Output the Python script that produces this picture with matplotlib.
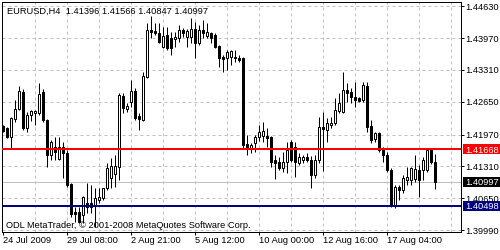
import matplotlib
matplotlib.use("Agg")
import matplotlib.pyplot as plt
import matplotlib.transforms as mtransforms
from matplotlib.patches import Rectangle
import numpy as np

plt.rcParams['font.family'] = ['Liberation Sans', 'DejaVu Sans']

# ---- data (EURUSD H4 candles) ----
opens = [1.42146, 1.42104, 1.41918, 1.42291, 1.42498, 1.42850, 1.42104, 1.42374, 1.42415, 1.42415,
         1.42850, 1.42270, 1.41546, 1.41711, 1.41463, 1.41711, 1.41587, 1.40945, 1.40366, 1.40366,
         1.40304, 1.40552, 1.40552, 1.40511, 1.40614, 1.40655, 1.40862, 1.41069, 1.41152, 1.41297,
         1.42767, 1.42498, 1.42643, 1.42870, 1.42353, 1.42270, 1.43160, 1.44133, 1.44112, 1.44071,
         1.43781, 1.44030, 1.43967, 1.43947, 1.43967, 1.44133, 1.43988, 1.43988, 1.44154, 1.43864,
         1.44133, 1.44009, 1.44071, 1.44030, 1.43802, 1.43574, 1.43553, 1.43574, 1.43574, 1.43553,
         1.43553, 1.41773, 1.41670, 1.41794, 1.41918, 1.41939, 1.41939, 1.41918, 1.41442, 1.41401,
         1.41276, 1.41401, 1.41815, 1.41711, 1.41380, 1.41442, 1.41504, 1.41442, 1.41132, 1.41442,
         1.42125, 1.42063, 1.42167, 1.42208, 1.42456, 1.42436, 1.42891, 1.42850, 1.42746, 1.42725,
         1.42684, 1.42974, 1.42146, 1.41877, 1.42001, 1.41670, 1.41546, 1.41235, 1.40511, 1.40883,
         1.40821, 1.41028, 1.41028, 1.41049, 1.41235, 1.41235, 1.41235, 1.41649, 1.41396]
highs = [1.42167, 1.42125, 1.42332, 1.42684, 1.42974, 1.42912, 1.42436, 1.42477, 1.42477, 1.43036,
         1.42912, 1.42291, 1.41856, 1.41918, 1.41918, 1.41815, 1.41649, 1.40966, 1.40469, 1.40469,
         1.40697, 1.40966, 1.40925, 1.40862, 1.40862, 1.40862, 1.41380, 1.41483, 1.41546, 1.42829,
         1.42829, 1.42622, 1.43098, 1.42932, 1.42415, 1.43264, 1.44278, 1.44423, 1.44278, 1.44278,
         1.44195, 1.44195, 1.44092, 1.44092, 1.44237, 1.44174, 1.44154, 1.44381, 1.44299, 1.44237,
         1.44340, 1.44278, 1.44092, 1.44071, 1.43823, 1.43616, 1.43719, 1.43719, 1.43719, 1.43616,
         1.43574, 1.41960, 1.41794, 1.41960, 1.42167, 1.42229, 1.42104, 1.41939, 1.41546, 1.41504,
         1.41608, 1.41815, 1.41856, 1.41815, 1.41587, 1.41546, 1.41587, 1.41525, 1.41546, 1.42332,
         1.42436, 1.42311, 1.42332, 1.42725, 1.42829, 1.43264, 1.43036, 1.42932, 1.43057, 1.42746,
         1.43057, 1.43057, 1.42270, 1.42022, 1.42022, 1.41711, 1.41608, 1.41276, 1.40925, 1.40925,
         1.41132, 1.41297, 1.41297, 1.41546, 1.41339, 1.41504, 1.41690, 1.41690, 1.41566]
lows = [1.42022, 1.41897, 1.41690, 1.42229, 1.42477, 1.42063, 1.42022, 1.42249, 1.42167, 1.42374,
        1.42229, 1.41297, 1.41442, 1.41442, 1.41442, 1.41069, 1.40883, 1.40262, 1.40159, 1.40138,
        1.40138, 1.40345, 1.40345, 1.40055, 1.40552, 1.40614, 1.40821, 1.40862, 1.40883, 1.41028,
        1.42415, 1.42436, 1.42539, 1.42270, 1.42063, 1.42249, 1.43139, 1.43967, 1.44030, 1.43864,
        1.43760, 1.43719, 1.43616, 1.43781, 1.43885, 1.43988, 1.43781, 1.43864, 1.43553, 1.43823,
        1.43967, 1.43967, 1.43864, 1.43760, 1.43367, 1.43264, 1.43305, 1.43409, 1.43471, 1.43471,
        1.41690, 1.41546, 1.41587, 1.41608, 1.41835, 1.41815, 1.41711, 1.41297, 1.41049, 1.41235,
        1.41194, 1.41173, 1.41401, 1.41090, 1.41339, 1.41380, 1.41401, 1.40862, 1.41069, 1.41380,
        1.41214, 1.41815, 1.42104, 1.42167, 1.42415, 1.42415, 1.42643, 1.42622, 1.42539, 1.42643,
        1.42643, 1.42022, 1.41794, 1.41815, 1.41608, 1.41401, 1.41194, 1.40469, 1.40448, 1.40614,
        1.40759, 1.40925, 1.40925, 1.40987, 1.40676, 1.41028, 1.41194, 1.41359, 1.40847]
closes = [1.42042, 1.41918, 1.42311, 1.42498, 1.42870, 1.42104, 1.42374, 1.42456, 1.42456, 1.42808,
          1.42270, 1.41546, 1.41815, 1.41608, 1.41711, 1.41587, 1.40925, 1.40324, 1.40324, 1.40159,
          1.40676, 1.40469, 1.40469, 1.40655, 1.40676, 1.40862, 1.41276, 1.41318, 1.41318, 1.42788,
          1.42518, 1.42560, 1.42870, 1.42311, 1.42291, 1.43181, 1.44133, 1.44092, 1.44071, 1.43885,
          1.44009, 1.43760, 1.43760, 1.43988, 1.44133, 1.44071, 1.44112, 1.44154, 1.43864, 1.44133,
          1.44071, 1.44092, 1.43967, 1.43781, 1.43553, 1.43533, 1.43678, 1.43698, 1.43553, 1.43512,
          1.41753, 1.41690, 1.41753, 1.41918, 1.42022, 1.42042, 1.41897, 1.41401, 1.41380, 1.41276,
          1.41401, 1.41649, 1.41442, 1.41401, 1.41504, 1.41504, 1.41442, 1.41132, 1.41442, 1.42125,
          1.42084, 1.42208, 1.42208, 1.42477, 1.42622, 1.42891, 1.42829, 1.42746, 1.42684, 1.42663,
          1.42995, 1.42125, 1.41856, 1.42001, 1.41649, 1.41546, 1.41235, 1.40511, 1.40883, 1.40821,
          1.41069, 1.41090, 1.41276, 1.41256, 1.41028, 1.41442, 1.41649, 1.41401, 1.40997]

time_label_idx = [0, 16, 32, 48, 64, 80, 96]
time_labels = ["24 Jul 2009", "29 Jul 08:00", "2 Aug 21:00", "5 Aug 12:00",
               "10 Aug 00:00", "12 Aug 16:00", "17 Aug 04:00"]
price_ticks = [1.44630, 1.43970, 1.43310, 1.42650, 1.41970, 1.41310, 1.40650, 1.39990]
red_level = 1.41668
navy_level = 1.40498
header_text = "EURUSD,H4  1.41396 1.41566 1.40847 1.40997"
copyright_text = "ODL MetaTrader, \u00a9 2001-2008 MetaQuotes Software Corp."

# ---- drawing ----
FS = 6.7
PX = 0.72  # one pixel in points at 100 dpi
W, H = 500, 250

fig = plt.figure(figsize=(W / 100, H / 100), dpi=100)
fig.patch.set_facecolor('white')
ax = fig.add_axes([2 / W, 18 / H, 459 / W, 230 / H])
ax.set_facecolor('white')

o = np.array(opens); h = np.array(highs); l = np.array(lows); c = np.array(closes)
x = np.arange(len(o))
bull = c >= o

ax.set_xlim(-0.325, 114.425)
ax.set_ylim(1.39952, 1.44719)

# grid
grid_style = dict(color='#c0c0c0', linestyle=(0, (3, 3)), linewidth=PX)
ax.set_yticks(price_ticks)
ax.set_yticklabels([f"{p:.5f}" for p in price_ticks])
ax.grid(axis='y', which='major', **grid_style)
ax.set_xticks(time_label_idx)
ax.set_xticklabels(time_labels, ha='left')
ax.set_xticks(np.arange(8, 115, 8), minor=True)
ax.xaxis.remove_overlapping_locs = False
ax.grid(axis='x', which='minor', **grid_style)
ax.set_axisbelow(True)

# bid line
ax.axhline(closes[-1], color='#c0c0c0', linewidth=PX, zorder=1)

# candles
ax.vlines(x, l, h, color='black', linewidth=PX, zorder=3)
body_bottom = np.minimum(o, c)
body_height = np.abs(c - o)
ax.bar(x[bull], body_height[bull], bottom=body_bottom[bull], width=0.5,
       facecolor='white', edgecolor='black', linewidth=PX, zorder=4)
ax.bar(x[~bull], body_height[~bull], bottom=body_bottom[~bull], width=0.5,
       facecolor='black', edgecolor='black', linewidth=PX, zorder=4)

# horizontal level lines
ax.axhline(red_level, color='#ff0000', linewidth=2 * PX, zorder=6)
ax.axhline(navy_level, color='#000080', linewidth=2 * PX, zorder=6)

# axes styling
for s in ax.spines.values():
    s.set_color('black')
    s.set_linewidth(PX)
ax.yaxis.tick_right()
ax.tick_params(axis='y', which='major', length=3 * PX, width=PX, pad=1.0,
               labelsize=FS, colors='black')
ax.tick_params(axis='x', which='major', length=3 * PX, width=PX, pad=1.0,
               labelsize=FS, colors='black')
ax.tick_params(axis='x', which='minor', length=0)

# highlighted price labels on the right axis
trans = mtransforms.blended_transform_factory(ax.transAxes, ax.transData)
ppx = (ax.get_ylim()[1] - ax.get_ylim()[0]) / 230.0
for level, col in [(red_level, '#ff0000'), (closes[-1], '#000000'), (navy_level, '#000080')]:
    ax.add_patch(Rectangle((1 + 2 / 459, level - 5 * ppx), 0.1, 10 * ppx, transform=trans,
                           facecolor=col, edgecolor='none', clip_on=False, zorder=10))
    ax.text(1 + 4 / 459, level, f"{level:.5f}", transform=trans, color='white',
            fontsize=FS, ha='left', va='center_baseline', clip_on=False, zorder=11)

# texts
fig.text(7 / W, 1 - 14 / H, header_text, fontsize=FS, color='black', ha='left', va='baseline')
fig.text(6 / W, 1 - 227.5 / H, copyright_text, fontsize=FS, color='black', ha='left', va='baseline')

fig.savefig('out.png', dpi=100)
